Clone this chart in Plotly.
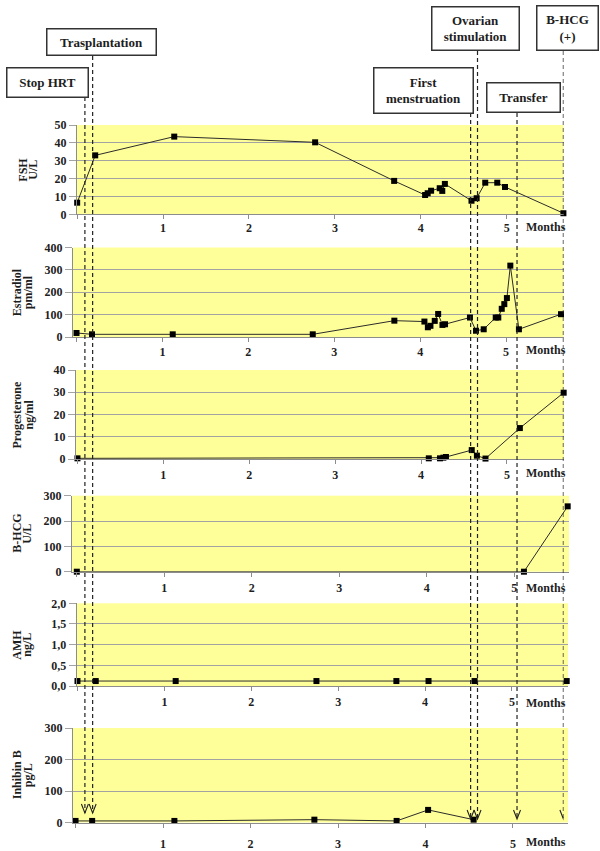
import plotly.graph_objects as go

W, H = 600, 851

# ---------------- data (months, values) ----------------
fsh_x = [0.0, 0.21, 1.13, 2.77, 3.69, 4.05, 4.08, 4.12, 4.22, 4.25, 4.28, 4.59, 4.65, 4.75, 4.89, 4.98, 5.66]
fsh_y = [6.5, 33, 43.5, 40.3, 18.7, 10.8, 11.8, 13.2, 14.6, 13.1, 17, 7.6, 9, 17.7, 17.7, 15.3, 0.6]

e2_x = [0.0, 0.18, 1.12, 2.75, 3.70, 4.05, 4.09, 4.12, 4.17, 4.21, 4.26, 4.29,
        4.58, 4.65, 4.74, 4.88, 4.91, 4.95, 4.98, 5.01, 5.05, 5.15, 5.64]
e2_y = [18, 12, 12, 12, 73, 69, 43.5, 50, 72, 103, 54, 57,
        87, 28, 34.5, 87, 87, 126, 147, 174, 319, 34.5, 102]

prog_x = [0.0, 4.09, 4.22, 4.26, 4.29, 4.59, 4.65, 4.75, 5.15, 5.66]
prog_y = [0.3, 0.3, 0.3, 0.6, 0.9, 4.0, 1.5, 0.2, 13.9, 29.8]

hcg_x = [0.0, 5.11, 5.61]
hcg_y = [0, 0, 258]

amh_x = [0.0, 0.21, 1.13, 2.75, 3.67, 4.04, 4.57, 5.63]
amh_y = [0.12, 0.12, 0.12, 0.12, 0.12, 0.12, 0.12, 0.12]

inh_x = [0.0, 0.19, 1.13, 2.73, 3.67, 4.03, 4.55]
inh_y = [5, 5, 5, 9, 5, 40, 9]

month_ticks = [0, 1, 2, 3, 4, 5]
month_labels = ["", "1", "2", "3", "4", "5"]

event_names = ["Stop HRT", "Trasplantation", "First<br>menstruation",
               "Ovarian<br>stimulation", "Transfer", "B-HCG<br>(+)"]
event_x = [0.09, 0.18, 4.58, 4.66, 5.12, 5.66]

# ---------------- layout helpers (pixel -> paper) ----------------
def px(x):
    return x / W

def py(y):
    return 1 - y / H

FONT = "Liberation Serif"
TXT = "#1e1e1e"
GRID = "#a3a3a3"

panels = [
    dict(t1="FSH", t2="U/L", x=fsh_x, y=fsh_y, ymax=50, dtick=10, fmt="d",
         L=77, R=563.5, top=125, bot=214.3, xr=[-0.002, 5.661], tx=(23, 33), lab=227, std=-2),
    dict(t1="Estradiol", t2="pm/ml", x=e2_x, y=e2_y, ymax=400, dtick=100, fmt="d",
         L=73, R=563.5, top=247.5, bot=337, xr=[-0.041, 5.669], tx=(17, 28), lab=350, std=0),
    dict(t1="Progesterone", t2="ng/ml", x=prog_x, y=prog_y, ymax=40, dtick=10, fmt="d",
         L=76, R=564, top=370, bot=459, xr=[-0.017, 5.664], tx=(17, 29), lab=473, std=1),
    dict(t1="B-HCG", t2="U/L", x=hcg_x, y=hcg_y, ymax=300, dtick=100, fmt="d",
         L=72, R=569, top=495.7, bot=571.7, xr=[-0.055, 5.625], tx=(17, 27), lab=588, std=1),
    dict(t1="AMH", t2="ng/L", x=amh_x, y=amh_y, ymax=2.0, dtick=0.5, fmt=".1f",
         L=76.7, R=568, top=603.3, bot=686, xr=[-0.009, 5.645], tx=(17, 27), lab=703, std=1),
    dict(t1="Inhibin B", t2="pg/L", x=inh_x, y=inh_y, ymax=300, dtick=100, fmt="d",
         L=73, R=568, top=728, bot=822.5, xr=[-0.029, 5.629], tx=(17, 28), lab=842, std=6),
]

fig = go.Figure()
annotations = []
shapes = []

for i, p in enumerate(panels, start=1):
    xa = "x" if i == 1 else f"x{i}"
    ya = "y" if i == 1 else f"y{i}"
    fig.add_trace(go.Scatter(
        x=p["x"], y=p["y"], xaxis=xa, yaxis=ya, mode="lines+markers",
        line=dict(color="#2b2b2b", width=1),
        marker=dict(symbol="square", size=6, color="#000000"),
        cliponaxis=False, showlegend=False, hoverinfo="x+y"))
    xkey = "xaxis" if i == 1 else f"xaxis{i}"
    ykey = "yaxis" if i == 1 else f"yaxis{i}"
    fig.layout[xkey] = dict(
        domain=[px(p["L"]), px(p["R"])], anchor=ya, range=p["xr"],
        tickmode="array", tickvals=month_ticks, ticktext=month_labels,
        ticks="outside", ticklen=4, tickcolor="#8c8c8c", ticklabelstandoff=p["std"],
        showgrid=False, zeroline=False, showline=True, linecolor="#8c8c8c", linewidth=1,
        tickfont=dict(family=FONT, size=12, color=TXT, weight="bold"),
        automargin=False, fixedrange=True)
    fig.layout[ykey] = dict(
        domain=[py(p["bot"]), py(p["top"])], anchor=xa, range=[0, p["ymax"]],
        tickmode="linear", tick0=0, dtick=p["dtick"], tickformat=p["fmt"],
        ticks="outside", ticklen=7, tickcolor=GRID,
        showgrid=True, gridcolor=GRID, gridwidth=1, zeroline=False,
        showline=True, linecolor="#8c8c8c", linewidth=1,
        tickfont=dict(family=FONT, size=12, color=TXT, weight="bold"),
        automargin=False, fixedrange=True)
    cy = (p["top"] + p["bot"]) / 2
    for txt, xx in zip((p["t1"], p["t2"]), p["tx"]):
        annotations.append(dict(
            text=txt, xref="paper", yref="paper", x=px(xx), y=py(cy),
            xanchor="center", yanchor="middle", textangle=-90, showarrow=False,
            font=dict(family=FONT, size=12, color=TXT, weight="bold")))
    annotations.append(dict(
        text="Months", xref="paper", yref="paper", x=px(546), y=py(p["lab"]),
        xanchor="center", yanchor="middle", showarrow=False,
        font=dict(family=FONT, size=12, color=TXT, weight="bold")))

# event boxes (centre x, centre y, width, height in px)
box_geom = [(47, 82, 80, 28), (101, 42, 108, 25), (423, 90.5, 98, 44),
            (475, 28.5, 86, 42), (523, 97.5, 72, 28), (567, 28, 60, 43)]
line_top = [97, 56, 113, 51, 113, 51]
line_tip = [813, 813, 819, 819, 819, 819]
for name, ex, (bx, by, bw, bh), ytop, ytip in zip(event_names, event_x, box_geom, line_top, line_tip):
    annotations.append(dict(
        text=name, xref="paper", yref="paper", x=px(bx), y=py(by),
        xanchor="center", yanchor="middle", showarrow=False,
        width=bw, height=bh, align="center", valign="middle",
        bgcolor="white", bordercolor="#333333", borderwidth=1.5, borderpad=0,
        font=dict(family=FONT, size=13, color=TXT, weight="bold")))
    shapes.append(dict(type="line", xref="x", yref="paper", x0=ex, x1=ex,
                       y0=py(ytop), y1=py(ytip),
                       line=dict(color="#222222", width=1.2, dash="4px,3px")))
    dx = 3.5 / 85.9
    shapes.append(dict(type="path", xref="x", yref="paper",
                       path=f"M {ex - dx} {py(ytip - 9)} L {ex} {py(ytip)} L {ex + dx} {py(ytip - 9)}",
                       line=dict(color="#222222", width=1.1)))

fig.update_layout(
    template="none",
    width=W, height=H, margin=dict(l=0, r=0, t=0, b=0, pad=0, autoexpand=False),
    paper_bgcolor="white", plot_bgcolor="#FFFF99",
    separators=",.", showlegend=False,
    annotations=annotations, shapes=shapes,
    font=dict(family=FONT, color=TXT),
)

fig.write_html("out.html", config={"displayModeBar": False},
               post_script="document.body.style.margin='0';")
